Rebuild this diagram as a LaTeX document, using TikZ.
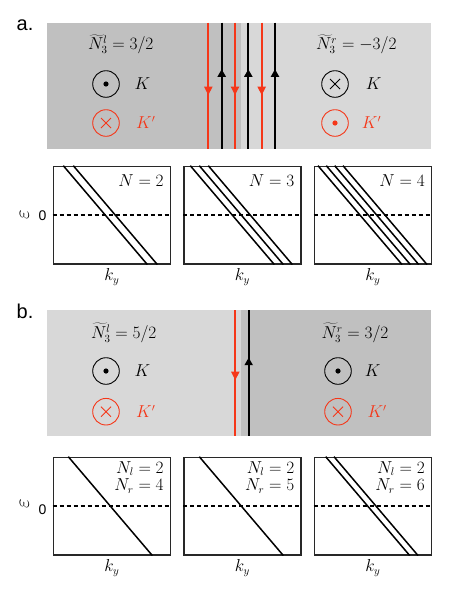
\documentclass[tikz,border=0pt]{standalone}
\usepackage{fontspec}
\newfontfamily\panelfont{Liberation Sans}
\usetikzlibrary{calc}
\definecolor{kred}{RGB}{245,55,25}
\definecolor{darkg}{RGB}{192,192,192}
\definecolor{lightg}{RGB}{216,216,216}
\definecolor{framec}{RGB}{40,40,40}
\tikzset{
  txt/.style={font=\fontsize{16}{19}\selectfont, inner sep=0pt},
  ring/.style={circle, draw, line width=0.9pt, minimum size=26.6pt, inner sep=0pt},
  edgeline/.style={line width=2.1pt},
  plotframe/.style={draw=framec, line width=1.2pt, minimum width=117pt, minimum height=97.6pt, inner sep=0pt, anchor=north west},
  band/.style={line width=1.5pt},
  zeroline/.style={line width=1.4pt, dash pattern=on 4pt off 3pt},
  panellabel/.style={font=\panelfont\fontsize{20}{24}\selectfont, inner sep=0pt, anchor=base west},
}
\newcommand{\ringdot}[3]{\node[ring, draw=#3] (#1) at #2 {}; \fill[#3] (#1.center) circle (2.6);}
\newcommand{\ringcross}[3]{\node[ring, draw=#3] (#1) at #2 {};
  \draw[#3, line width=0.9pt] ([shift={(-5,-5)}]#1.center) -- ([shift={(5,5)}]#1.center)
    ([shift={(-5,5)}]#1.center) -- ([shift={(5,-5)}]#1.center);}
\newcommand{\edgedown}[4]{\draw[edgeline, kred] (#1,#2) -- (#1,#3);
  \fill[kred] (#1-4.3,#4-8.3) -- (#1+4.3,#4-8.3) -- (#1,#4) -- cycle;}
\newcommand{\edgeup}[4]{\draw[edgeline] (#1,#2) -- (#1,#3);
  \fill (#1-4.3,#4+7.5) -- (#1+4.3,#4+7.5) -- (#1,#4) -- cycle;}
\newcommand{\energybox}[4]{%
  \node[plotframe] (#1) at (#2,#3) {};
  \draw[zeroline] (#1.west) -- (#1.east);
  \foreach \o in {#4} {\draw[band] ($(#1.north west)+(\o,0)$) -- ($(#1.south west)+(\o+84,0)$);}
  \node[txt] (#1k) at ($(#1.south)+(0,12.7)$) {$k_y$};
}
\begin{document}
\begin{tikzpicture}[x=1pt,y=-1pt]
\useasboundingbox (0,0) rectangle (458,592);
% ---------------- panel a
\node[panellabel] (la) at (16.5,30.7) {a.};
\fill[darkg] (47,22.7) rectangle (240.5,149);
\fill[lightg] (240.5,22.7) rectangle (431,149);
\edgedown{208.3}{22.7}{149}{95}
\edgeup{221.7}{22.7}{149}{69.3}
\edgedown{235}{22.7}{149}{95}
\edgeup{248.3}{22.7}{149}{69.3}
\edgedown{261.7}{22.7}{149}{95}
\edgeup{275}{22.7}{149}{69.3}
\node[txt, anchor=base] (nla) at (120.8,49.5) {$\widetilde{N}_3^l=3/2$};
\ringdot{ka1}{(106,84)}{black}
\ringcross{kpa1}{(106,123)}{kred}
\node[txt, anchor=base west] (tka1) at (134.3,89.7) {$K$};
\node[txt, anchor=base west, text=kred] (tkpa1) at (136,128.7) {$K'$};
\node[txt, anchor=base] (nra) at (356.3,49.5) {$\widetilde{N}_3^r=-3/2$};
\ringcross{ka2}{(335,84)}{black}
\ringdot{kpa2}{(335,123)}{kred}
\node[txt, anchor=base west] (tka2) at (365.7,89.7) {$K$};
\node[txt, anchor=base west, text=kred] (tkpa2) at (361.7,128.7) {$K'$};
% energy plots a
\node[txt, rotate=90, font=\fontsize{21}{24}\selectfont] (epsa) at (24.5,215) {$\varepsilon$};
\node[font=\panelfont\fontsize{14}{16}\selectfont, inner sep=0pt] (za) at (42.5,216) {0};
\energybox{pa1}{52.7}{165.7}{10.6,20.6}
\energybox{pa2}{183.3}{165.7}{7,16,25}
\energybox{pa3}{313.7}{165.7}{4.3,12.6,21,29.3}
\node[txt, anchor=base east] at ($(pa1.north east)+(-7,20.3)$) {$N=2$};
\node[txt, anchor=base east] at ($(pa2.north east)+(-7,20.3)$) {$N=3$};
\node[txt, anchor=base east] at ($(pa3.north east)+(-7,20.3)$) {$N=4$};
% ---------------- panel b
\node[panellabel] (lb) at (16.5,318.3) {b.};
\fill[lightg] (47,310) rectangle (241,435.7);
\fill[darkg] (241,310) rectangle (431,435.7);
\edgedown{235.3}{310}{435.7}{380}
\edgeup{248.7}{310}{435.7}{357.7}
\node[txt, anchor=base] (nlb) at (123.8,338.3) {$\widetilde{N}_3^l=5/2$};
\ringdot{kb1}{(106,371)}{black}
\ringcross{kpb1}{(106,411.7)}{kred}
\node[txt, anchor=base west] (tkb1) at (134.3,376.7) {$K$};
\node[txt, anchor=base west, text=kred] (tkpb1) at (136,417.4) {$K'$};
\node[txt, anchor=base] (nrb) at (355,338.3) {$\widetilde{N}_3^r=3/2$};
\ringdot{kb2}{(338,371)}{black}
\ringcross{kpb2}{(338,411.7)}{kred}
\node[txt, anchor=base west] (tkb2) at (364.7,376.7) {$K$};
\node[txt, anchor=base west, text=kred] (tkpb2) at (367.3,417.4) {$K'$};
% energy plots b
\node[txt, rotate=90, font=\fontsize{21}{24}\selectfont] (epsb) at (24.5,504) {$\varepsilon$};
\node[font=\panelfont\fontsize{14}{16}\selectfont, inner sep=0pt] (zb) at (42.5,510) {0};
\energybox{pb1}{52.7}{456.7}{15.6}
\energybox{pb2}{183.3}{456.7}{16}
\energybox{pb3}{313.7}{456.7}{12,20.3}
\node[txt, anchor=base east] at ($(pb1.north east)+(-7,16.6)$) {$N_l=2$};
\node[txt, anchor=base east] at ($(pb1.north east)+(-7,34)$) {$N_r=4$};
\node[txt, anchor=base east] at ($(pb2.north east)+(-7,16.6)$) {$N_l=2$};
\node[txt, anchor=base east] at ($(pb2.north east)+(-7,34)$) {$N_r=5$};
\node[txt, anchor=base east] at ($(pb3.north east)+(-7,16.6)$) {$N_l=2$};
\node[txt, anchor=base east] at ($(pb3.north east)+(-7,34)$) {$N_r=6$};
\end{tikzpicture}
\end{document}
